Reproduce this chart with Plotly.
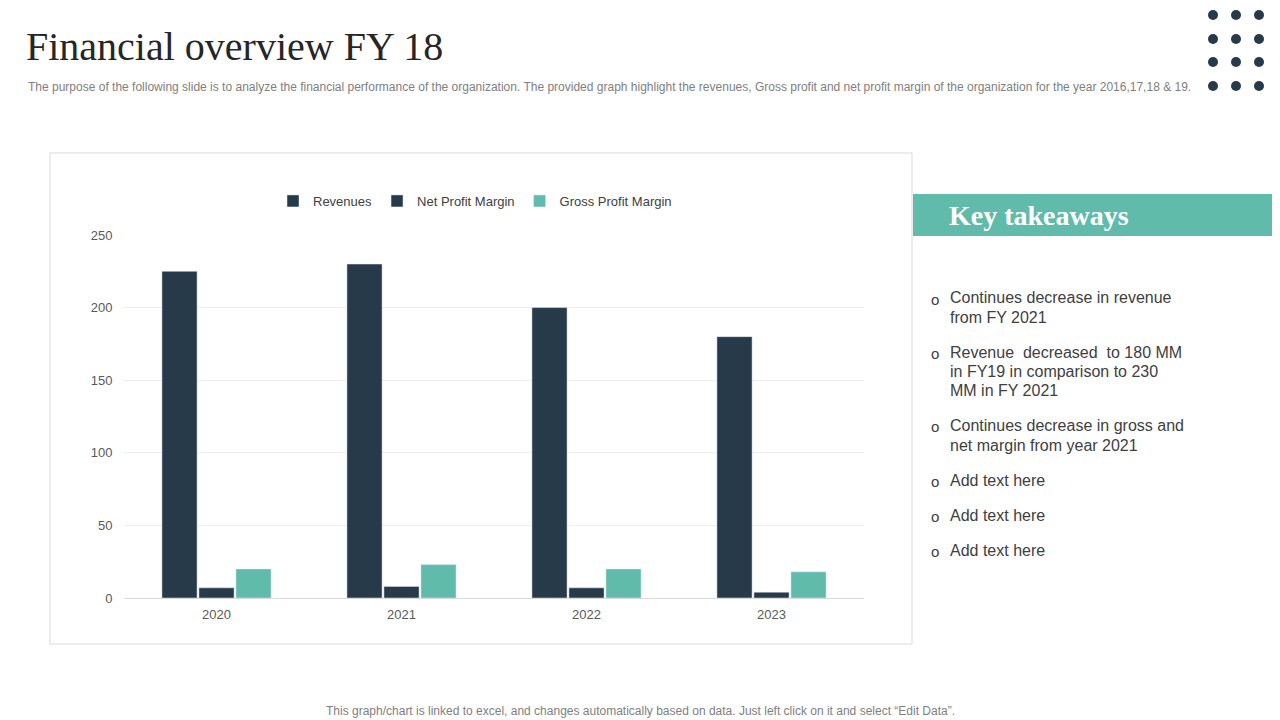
import plotly.graph_objects as go

# Chart data
years = ["2020", "2021", "2022", "2023"]
revenues = [225, 230, 200, 180]
net_profit_margin = [7, 8, 7, 4]
gross_profit_margin = [20, 23, 20, 18]

y_ticks = [0, 50, 100, 150, 200, 250]

takeaways = [
    ["Continues decrease in revenue", "from FY 2021"],
    ["Revenue  decreased  to 180 MM", "in FY19 in comparison to 230", "MM in FY 2021"],
    ["Continues decrease in gross and", "net margin from year 2021"],
    ["Add text here"],
    ["Add text here"],
    ["Add text here"],
]

dark = "#263A4A"
teal = "#61BBAB"
OFF = 8  # the page body adds an 8px margin around the figure
W, H = 1280 + OFF, 720 + OFF


def px(x):
    return (x - OFF) / W


def py(y):
    return 1 - (y - OFF) / H


def note(text, x, y, size, color="#404040", family="Liberation Sans", xanchor="left"):
    # text placed in page pixels (measured from the top-left corner)
    return dict(text=text, x=px(x), y=py(y), xref="paper", yref="paper",
                xanchor=xanchor, yanchor="middle", showarrow=False,
                font=dict(family=family, size=size, color=color))


fig = go.Figure()

fig.add_trace(go.Bar(x=years, y=revenues, name="Revenues", marker_color=dark))
fig.add_trace(go.Bar(x=years, y=net_profit_margin, name="Net Profit Margin", marker_color=dark))
fig.add_trace(go.Bar(x=years, y=gross_profit_margin, name="Gross Profit Margin", marker_color=teal))

shapes = []
# chart frame
shapes.append(dict(type="rect", xref="paper", yref="paper",
                   x0=px(50), x1=px(912), y0=py(644), y1=py(153),
                   line=dict(color="#d9d9d9", width=1), layer="below"))
# teal heading band
shapes.append(dict(type="rect", xref="paper", yref="paper",
                   x0=px(913), x1=px(1290), y0=py(236), y1=py(194),
                   fillcolor=teal, line=dict(width=0)))
# decorative dots top right
for cx in [1213, 1236, 1259]:
    for cy in [15, 39, 62, 86]:
        shapes.append(dict(type="circle", xref="paper", yref="paper",
                           x0=px(cx - 5), x1=px(cx + 5), y0=py(cy + 5), y1=py(cy - 5),
                           fillcolor=dark, line=dict(width=0)))

annotations = []
annotations.append(note("Financial overview FY 18", 24, 46, 40, "#262626", "Liberation Serif"))
annotations.append(note(
    "The purpose of the following slide is to analyze the financial performance of the organization. "
    "The provided graph highlight the revenues, Gross profit and net profit margin of the organization "
    "for the year 2016,17,18 & 19.", 26, 87, 12, "#808080"))
annotations.append(note("<b>Key takeaways</b>", 947, 215, 28, "white", "Liberation Serif"))

line_tops = [[298, 317], [352, 371, 390], [426, 445], [480], [515], [550]]
for lines, tops in zip(takeaways, line_tops):
    annotations.append(note("o", 935, tops[0] + 1, 15, xanchor="center"))
    for txt, t in zip(lines, tops):
        annotations.append(note(txt, 948, t, 16))

annotations.append(note(
    "This graph/chart is linked to excel, and changes automatically based on data. "
    "Just left click on it and select \u201cEdit Data\u201d.", 640, 711, 12, "#808080",
    xanchor="center"))

fig.update_layout(
    width=W, height=H,
    margin=dict(l=0, r=0, t=0, b=0, pad=0, autoexpand=False),
    paper_bgcolor="white", plot_bgcolor="white",
    barmode="group", bargap=0.4, bargroupgap=0.05,
    font=dict(family="Liberation Sans", size=12, color="#595959"),
    showlegend=True,
    legend=dict(orientation="h", x=px(475), y=py(201), xanchor="center", yanchor="middle",
                itemwidth=30, font=dict(size=13, color="#404040")),
    xaxis=dict(domain=[px(124), px(864)], showline=True, linecolor="#d9d9d9",
               ticks="outside", ticklen=4, tickcolor="white",
               tickfont=dict(size=13, color="#595959"), fixedrange=True),
    yaxis=dict(domain=[py(598), py(235)], range=[0, 250], tickvals=y_ticks,
               showgrid=True, gridcolor="#eeeeee", zeroline=False, showline=False,
               ticks="outside", ticklen=8, tickcolor="white",
               tickfont=dict(size=13, color="#595959")),
    shapes=shapes,
    annotations=annotations,
)

fig.write_html("out.html")
